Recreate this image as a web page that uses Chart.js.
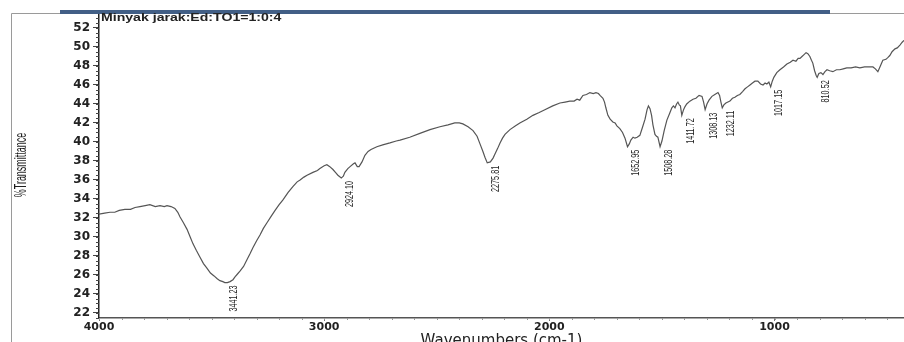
<!DOCTYPE html>
<html>
<head>
<meta charset="utf-8">
<script src="https://cdn.jsdelivr.net/npm/chart.js@4/dist/chart.umd.min.js"></script>
<style>
  html, body { margin: 0; padding: 0; background: #fff; }
  canvas { display: block; }
</style>
</head>
<body>
<canvas id="ir" width="904" height="342"></canvas>
<script>
// FTIR spectrum: wavenumber (cm-1) against %T
const wavenumbers = [
  4000, 3975, 3951, 3930, 3910, 3885, 3860, 3840, 3818, 3795, 3774, 3750, 3729, 3710, 3698, 3680,
  3663, 3650, 3640, 3625, 3609, 3595, 3583, 3568, 3552, 3536, 3520, 3505, 3489, 3475, 3463, 3450,
  3441.23, 3430, 3418, 3405, 3396, 3385, 3374, 3358, 3343, 3330, 3316, 3300, 3285, 3270, 3254, 3235,
  3218, 3200, 3183, 3160, 3139, 3120, 3107, 3090, 3076, 3050, 3030, 3019, 3000, 2988, 2975, 2961,
  2950, 2939, 2924.10, 2915, 2908, 2895, 2885, 2870, 2863, 2853, 2845, 2832, 2819, 2805, 2792, 2766,
  2740, 2708, 2680, 2663, 2620, 2575, 2530, 2486, 2450, 2420, 2400, 2384, 2361, 2339, 2321, 2308,
  2295, 2286, 2275.81, 2262, 2250, 2242, 2230, 2219, 2208, 2197, 2175, 2150, 2131, 2100, 2073, 2045,
  2020, 1985, 1953, 1930, 1909, 1890, 1877, 1865, 1851, 1835, 1820, 1805, 1793, 1782, 1775, 1762,
  1755, 1749, 1740, 1730, 1718, 1708, 1700, 1687, 1675, 1664, 1652.95, 1645, 1638, 1628, 1620, 1610,
  1598, 1587, 1575, 1566, 1560, 1553, 1546, 1540, 1531, 1524, 1518, 1508.28, 1500, 1490, 1478, 1466,
  1456, 1449, 1442, 1435, 1429, 1423, 1418, 1411.72, 1404, 1398, 1390, 1376, 1362, 1349, 1335, 1322,
  1315, 1308.13, 1300, 1291, 1278, 1265, 1251, 1244, 1238, 1232.11, 1225, 1216, 1207, 1198, 1187, 1176,
  1165, 1154, 1142, 1131, 1120, 1109, 1098, 1087, 1074, 1062, 1051, 1042, 1034, 1025, 1017.15, 1010,
  1003, 990, 976, 960, 945, 930, 918, 905, 895, 887, 878, 869, 860, 852, 843, 836,
  830, 822, 815, 810.52, 803, 794, 785, 776, 767, 755, 741, 725, 710, 695, 679, 660,
  640, 621, 600, 580, 563, 552, 541, 530, 519, 505, 496, 488, 478, 465, 455, 443,
  433, 425
];
const transmittance = [
  32.4, 32.5, 32.6, 32.6, 32.8, 32.9, 32.9, 33.1, 33.2, 33.3, 33.4, 33.2, 33.3, 33.2, 33.3, 33.2,
  33.0, 32.6, 32.1, 31.5, 30.8, 30.0, 29.3, 28.6, 27.9, 27.2, 26.7, 26.2, 25.9, 25.6, 25.4, 25.3,
  25.2, 25.2, 25.3, 25.5, 25.8, 26.1, 26.4, 26.9, 27.6, 28.2, 28.9, 29.6, 30.2, 30.9, 31.5, 32.2,
  32.8, 33.4, 33.9, 34.7, 35.3, 35.8, 36.0, 36.3, 36.5, 36.8, 37.0, 37.2, 37.5, 37.6, 37.4, 37.1,
  36.8, 36.5, 36.2, 36.4, 36.8, 37.2, 37.4, 37.7, 37.8, 37.4, 37.4, 37.9, 38.6, 39.0, 39.2, 39.5,
  39.7, 39.9, 40.1, 40.2, 40.5, 40.9, 41.3, 41.6, 41.8, 42.0, 42.0, 41.9, 41.6, 41.2, 40.6, 39.8,
  39.0, 38.4, 37.8, 37.9, 38.3, 38.7, 39.3, 39.9, 40.4, 40.8, 41.3, 41.7, 42.0, 42.4, 42.8, 43.1,
  43.4, 43.8, 44.1, 44.2, 44.3, 44.3, 44.5, 44.4, 44.9, 45.0, 45.2, 45.1, 45.2, 45.1, 44.9, 44.6,
  44.2, 43.6, 42.8, 42.4, 42.1, 42.0, 41.7, 41.4, 41.0, 40.4, 39.5, 39.8, 40.2, 40.5, 40.4, 40.5,
  40.7, 41.5, 42.4, 43.4, 43.8, 43.5, 42.8, 41.8, 40.8, 40.6, 40.5, 39.5, 40.1, 41.2, 42.3, 43.0,
  43.6, 43.8, 43.6, 44.0, 44.2, 43.9, 43.8, 42.8, 43.4, 43.7, 44.0, 44.3, 44.5, 44.6, 44.9, 44.8,
  44.2, 43.4, 44.0, 44.4, 44.8, 45.0, 45.2, 44.9, 44.2, 43.6, 43.9, 44.1, 44.2, 44.3, 44.6, 44.7,
  44.9, 45.0, 45.3, 45.6, 45.8, 46.0, 46.2, 46.4, 46.4, 46.1, 46.0, 46.2, 46.1, 46.3, 45.8, 46.4,
  46.8, 47.3, 47.6, 47.9, 48.2, 48.4, 48.6, 48.5, 48.8, 48.8, 49.0, 49.2, 49.4, 49.3, 49.0, 48.6,
  48.3, 47.5, 47.0, 46.8, 47.2, 47.3, 47.1, 47.4, 47.6, 47.5, 47.4, 47.6, 47.6, 47.7, 47.8, 47.8,
  47.9, 47.8, 47.9, 47.9, 47.9, 47.7, 47.4, 48.0, 48.6, 48.7, 48.9, 49.1, 49.5, 49.8, 49.9, 50.2,
  50.5, 50.7
];

// picked peaks, labelled with their wavenumber
const peakPositions = [3441.23, 2924.10, 2275.81, 1652.95, 1508.28, 1411.72, 1308.13, 1232.11, 1017.15, 810.52];
const peakLabels = ['3441.23', '2924.10', '2275.81', '1652.95', '1508.28', '1411.72', '1308.13', '1232.11', '1017.15', '810.52'];

const xTickValues = [4000, 3000, 2000, 1000];
const yTickValues = [22, 24, 26, 28, 30, 32, 34, 36, 38, 40, 42, 44, 46, 48, 50, 52];

const sampleName = 'Minyak jarak:Ed:TO1=1:0:4';
const xAxisTitle = 'Wavenumbers (cm-1)';
const yAxisTitle = '%Transmittance';

const spectrumPoints = wavenumbers.map((w, i) => ({ x: w, y: transmittance[i] }));

// frame, header bar, minor ticks, sample name, y title and peak annotations
const decorations = {
  id: 'spectrumDecorations',
  afterDraw(chart) {
    const ctx = chart.ctx;
    const xs = chart.scales.x;
    const ys = chart.scales.y;
    const area = chart.chartArea;
    ctx.save();

    // outer frame
    ctx.strokeStyle = '#9a9a9a';
    ctx.lineWidth = 1;
    ctx.beginPath();
    ctx.moveTo(11.5, 342);
    ctx.lineTo(11.5, 13.5);
    ctx.lineTo(62, 13.5);
    ctx.moveTo(828, 13.5);
    ctx.lineTo(904, 13.5);
    ctx.stroke();

    // header bar
    ctx.fillStyle = '#425f86';
    ctx.fillRect(60, 10, 770, 4);

    // minor ticks on the y axis
    ctx.strokeStyle = '#444';
    ctx.lineWidth = 1;
    ctx.beginPath();
    for (let k = 0; k <= 64; k++) {
      const v = 21.5 + k * 0.5;
      if (v < ys.min || v > ys.max) continue;
      const py = Math.round(ys.getPixelForValue(v)) + 0.5;
      ctx.moveTo(area.left - 3, py);
      ctx.lineTo(area.left, py);
    }
    ctx.stroke();

    // minor ticks on the x axis
    ctx.strokeStyle = '#999';
    ctx.beginPath();
    for (let w = 500; w <= 4000; w += 100) {
      if (w < xs.min) continue;
      const px = Math.round(xs.getPixelForValue(w)) + 0.5;
      ctx.moveTo(px, area.bottom);
      ctx.lineTo(px, area.bottom + 2);
    }
    ctx.stroke();

    // sample name
    ctx.fillStyle = '#222';
    ctx.textAlign = 'left';
    ctx.textBaseline = 'middle';
    ctx.translate(101, 18);
    ctx.scale(1.41, 1);
    ctx.font = 'bold 10px "Liberation Sans", Arial, sans-serif';
    ctx.fillText(sampleName, 0, 0);
    ctx.setTransform(1, 0, 0, 1, 0, 0);

    // y axis title, narrow and rotated
    ctx.translate(22, 165);
    ctx.rotate(-Math.PI / 2);
    ctx.scale(0.56, 1);
    ctx.font = '16px "Liberation Sans", Arial, sans-serif';
    ctx.textAlign = 'center';
    ctx.fillStyle = '#1e1e1e';
    ctx.fillText(yAxisTitle, 0, 0);
    ctx.setTransform(1, 0, 0, 1, 0, 0);

    // peak labels, reading upward, hung just under each minimum
    ctx.font = '10px "Liberation Sans", Arial, sans-serif';
    ctx.fillStyle = '#222';
    ctx.textAlign = 'right';
    ctx.textBaseline = 'middle';
    peakPositions.forEach((w, i) => {
      const idx = wavenumbers.indexOf(w);
      const t = transmittance[idx];
      const px = xs.getPixelForValue(w) + 9;
      const py = ys.getPixelForValue(t) + 3;
      ctx.setTransform(1, 0, 0, 1, 0, 0);
      ctx.translate(px, py);
      ctx.rotate(-Math.PI / 2);
      ctx.scale(0.72, 1);
      ctx.fillText(peakLabels[i], 0, 0);
    });
    ctx.restore();
  }
};

new Chart(document.getElementById('ir'), {
  type: 'line',
  data: {
    datasets: [{
      data: spectrumPoints,
      borderColor: '#555',
      borderWidth: 1.2,
      pointRadius: 0,
      tension: 0,
      fill: false
    }]
  },
  options: {
    responsive: false,
    animation: false,
    devicePixelRatio: 1,
    layout: { padding: { left: 0, right: 0, top: 14, bottom: 0 } },
    plugins: { legend: { display: false }, tooltip: { enabled: false } },
    scales: {
      x: {
        type: 'linear',
        reverse: true,
        min: 425,
        max: 4000,
        afterBuildTicks(scale) { scale.ticks = xTickValues.map(v => ({ value: v })); },
        afterFit(scale) { scale.height = 24; },
        grid: { drawOnChartArea: false, tickLength: 3, color: '#777' },
        border: { display: true, color: '#555', width: 1.5 },
        ticks: {
          color: '#222',
          padding: 0,
          maxRotation: 0,
          font: { family: '"DejaVu Sans", sans-serif', size: 11, weight: 'bold' },
          callback: v => String(v)
        },
        title: {
          display: true,
          text: xAxisTitle,
          color: '#222',
          padding: 0,
          font: { family: '"DejaVu Sans", sans-serif', size: 15, lineHeight: 0.1 }
        }
      },
      y: {
        min: 21.47,
        max: 53.47,
        afterBuildTicks(scale) { scale.ticks = yTickValues.map(v => ({ value: v })); },
        afterFit(scale) { scale.width = 99; },
        grid: { drawOnChartArea: false, tickLength: 6, color: '#444' },
        border: { display: true, color: '#222', width: 1.5 },
        ticks: {
          color: '#222',
          padding: 3,
          font: { family: '"DejaVu Sans", sans-serif', size: 12, weight: 'bold' },
          callback: v => String(v)
        }
      }
    }
  },
  plugins: [decorations]
});
</script>
</body>
</html>
